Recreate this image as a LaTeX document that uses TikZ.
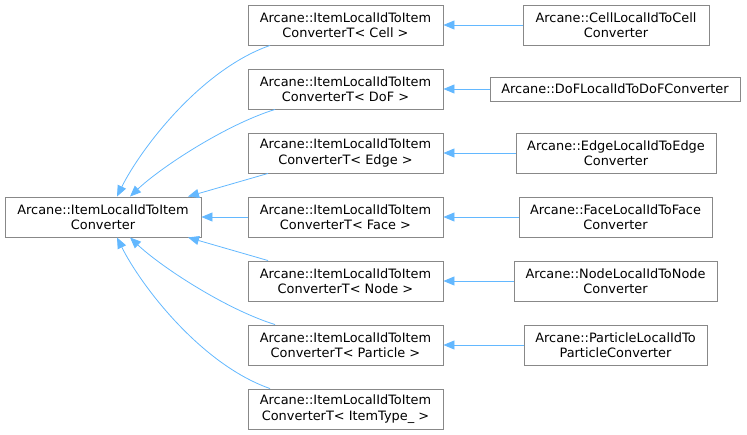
\documentclass[tikz,border=0pt]{standalone}
\usepackage{fontspec}
\setmainfont{DejaVu Sans}
\usetikzlibrary{arrows.meta}
\definecolor{edgeblue}{HTML}{63B8FF}
\definecolor{boxgray}{HTML}{888888}
\begin{document}
\begin{tikzpicture}[x=1pt,y=-1pt,
  cls/.style={draw=boxgray,line width=0.9pt,fill=white,inner sep=0pt,
    minimum height=40pt,align=center,font=\fontsize{12.9}{15.5}\selectfont},
  inh/.style={draw=edgeblue,line width=0.8pt,-{Triangle[length=11pt,width=9pt]}}]
\useasboundingbox (0,0) rectangle (747,435);
% base
\node[cls,minimum width=196pt] (base) at (103,217) {Arcane::ItemLocalIdToItem\\Converter};
% middle column
\node[cls,minimum width=195pt] (mcell) at (345.5,25) {Arcane::ItemLocalIdToItem\\ConverterT< Cell >};
\node[cls,minimum width=195pt] (mdof) at (345.5,89) {Arcane::ItemLocalIdToItem\\ConverterT< DoF >};
\node[cls,minimum width=195pt] (medge) at (345.5,153) {Arcane::ItemLocalIdToItem\\ConverterT< Edge >};
\node[cls,minimum width=195pt] (mface) at (345.5,217) {Arcane::ItemLocalIdToItem\\ConverterT< Face >};
\node[cls,minimum width=195pt] (mnode) at (345.5,281) {Arcane::ItemLocalIdToItem\\ConverterT< Node >};
\node[cls,minimum width=195pt] (mpart) at (345.5,345) {Arcane::ItemLocalIdToItem\\ConverterT< Particle >};
\node[cls,minimum width=195pt] (mtype) at (345.5,409) {Arcane::ItemLocalIdToItem\\ConverterT< ItemType\_ >};
% right column
\node[cls,minimum width=186pt] (rcell) at (616,25) {Arcane::CellLocalIdToCell\\Converter};
\node[cls,minimum width=250pt,minimum height=24pt] (rdof) at (615,89) {Arcane::DoFLocalIdToDoFConverter};
\node[cls,minimum width=200pt] (redge) at (616,153) {Arcane::EdgeLocalIdToEdge\\Converter};
\node[cls,minimum width=193pt] (rface) at (615.5,217) {Arcane::FaceLocalIdToFace\\Converter};
\node[cls,minimum width=203pt] (rnode) at (615.5,281) {Arcane::NodeLocalIdToNode\\Converter};
\node[cls,minimum width=183pt] (rpart) at (615.5,345) {Arcane::ParticleLocalIdTo\\ParticleConverter};
% edges middle -> base
\draw[inh] ([xshift=-75.5pt]mcell.south) .. controls (200,70) and (140,150) .. ([xshift=14pt]base.north);
\draw[inh] ([xshift=-70.5pt]mdof.south) .. controls (225,125) and (160,168) .. ([xshift=27pt]base.north);
\draw[inh] ([xshift=-77.5pt]medge.south) -- ([xshift=85pt]base.north);
\draw[inh] (mface.west) -- (base.east);
\draw[inh] ([xshift=-77.5pt]mnode.north) -- ([xshift=85pt]base.south);
\draw[inh] ([xshift=-70.5pt]mpart.north) .. controls (225,309) and (160,266) .. ([xshift=27pt]base.south);
\draw[inh] ([xshift=-75.5pt]mtype.north) .. controls (200,364) and (140,284) .. ([xshift=14pt]base.south);
% edges right -> middle
\draw[inh] (rcell.west) -- (mcell.east);
\draw[inh] (rdof.west) -- (mdof.east);
\draw[inh] (redge.west) -- (medge.east);
\draw[inh] (rface.west) -- (mface.east);
\draw[inh] (rnode.west) -- (mnode.east);
\draw[inh] (rpart.west) -- (mpart.east);
\end{tikzpicture}
\end{document}
